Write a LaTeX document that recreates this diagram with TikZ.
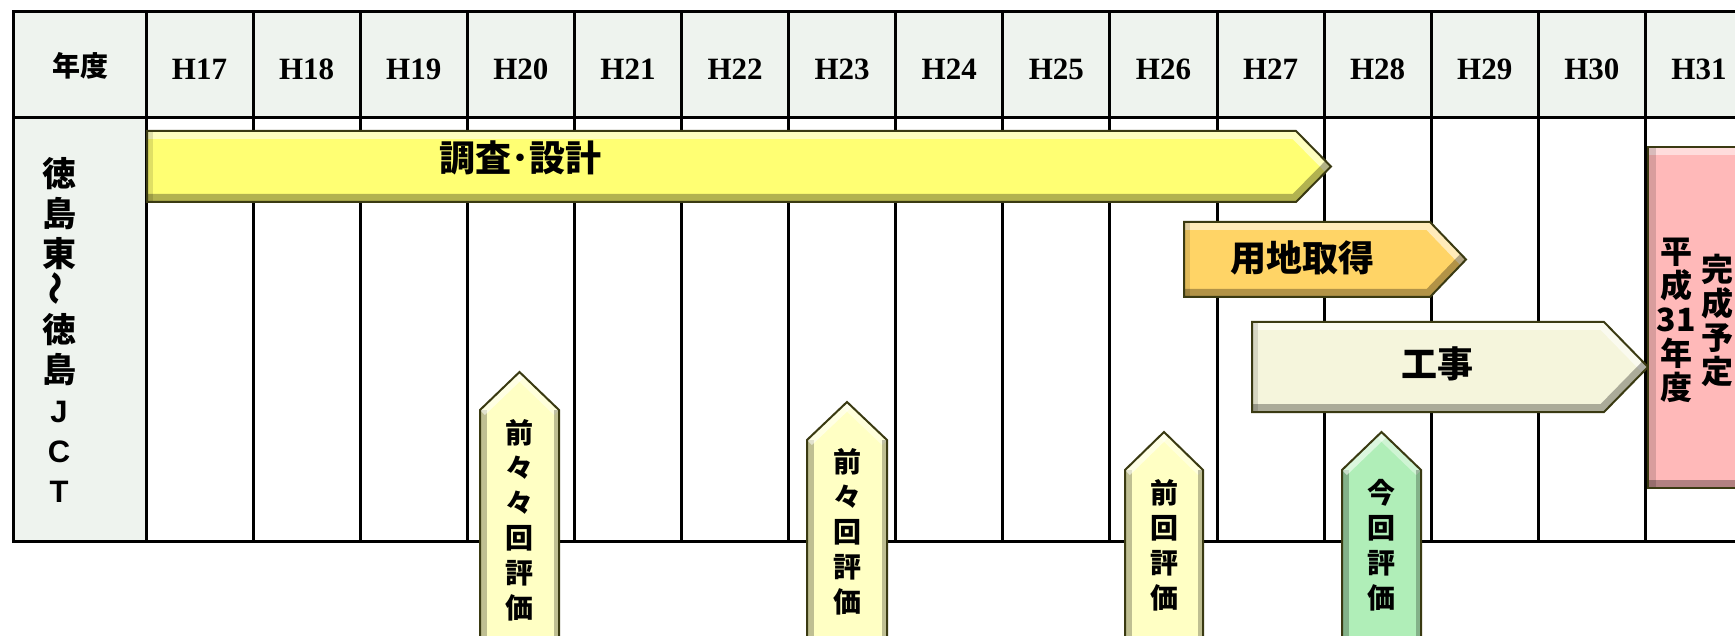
\documentclass[tikz,border=0pt]{standalone}
\usepackage{fontspec}
\usepackage{graphicx}
\setmainfont{Liberation Serif}
\newfontfamily\jp{Noto Sans CJK JP}
\newfontfamily\latinsans{Liberation Sans}
\definecolor{hdr}{HTML}{EEF3EE}
\definecolor{barY}{HTML}{FFFF73}
\definecolor{barO}{HTML}{FFD466}
\definecolor{barB}{HTML}{F5F5DC}
\definecolor{tagY}{HTML}{FFFFC4}
\definecolor{tagG}{HTML}{B0EEB8}
\definecolor{pinkbox}{HTML}{FFB9B9}
\definecolor{edge}{HTML}{3A3A12}
\tikzset{
  gridline/.style={line width=3pt, black},
  shapeedge/.style={draw=edge, line width=2pt, line join=miter},
  hd/.style={font=\bfseries\fontsize{31}{31}\selectfont, anchor=base, inner sep=0pt},
  barlabel/.style={font=\jp\bfseries\fontsize{36}{36}\selectfont, inner sep=0pt},
  taglabel/.style={font=\jp\bfseries\fontsize{28}{35}\selectfont, align=center, inner sep=0pt},
  pinklabel/.style={font=\jp\bfseries\fontsize{32}{34}\selectfont, align=center, inner sep=0pt},
  sidelabel/.style={font=\jp\bfseries\fontsize{34}{34}\selectfont, inner sep=0pt},
  sidelatin/.style={font=\latinsans\bfseries\fontsize{31}{31}\selectfont, inner sep=0pt},
}
% #1 x1, #2 y1, #3 head start x, #4 y2, #5 tip x, #6 colour
\newcommand{\arrowbar}[6]{%
  \fill[#6] (#1,#2) -- (#3,#2) -- (#5,{(#2+#4)/2}) -- (#3,#4) -- (#1,#4) -- cycle;
  \begin{scope}
    \clip (#1,#2) -- (#3,#2) -- (#5,{(#2+#4)/2}) -- (#3,#4) -- (#1,#4) -- cycle;
    \draw[white,opacity=.55,line width=16pt] (#1,#2) -- (#3,#2) -- (#5,{(#2+#4)/2});
    \draw[black,opacity=.3,line width=16pt] (#5,{(#2+#4)/2}) -- (#3,#4) -- (#1,#4);
    \draw[black,opacity=.12,line width=12pt] (#1,#2) -- (#1,#4);
  \end{scope}
  \draw[shapeedge] (#1,#2) -- (#3,#2) -- (#5,{(#2+#4)/2}) -- (#3,#4) -- (#1,#4) -- cycle;
}
% #1 xl, #2 xr, #3 tip y, #4 shoulder y, #5 colour
\newcommand{\tagshape}[5]{%
  \fill[#5] (#1,660) -- (#1,#4) -- ({(#1+#2)/2},#3) -- (#2,#4) -- (#2,660) -- cycle;
  \begin{scope}
    \clip (#1,660) -- (#1,#4) -- ({(#1+#2)/2},#3) -- (#2,#4) -- (#2,660) -- cycle;
    \draw[black,opacity=.25,line width=14pt] (#1,660) -- (#1,#4);
    \draw[white,opacity=.55,line width=14pt] (#1,#4) -- ({(#1+#2)/2},#3);
    \draw[white,opacity=.4,line width=14pt] ({(#1+#2)/2},#3) -- (#2,#4);
    \draw[black,opacity=.25,line width=10pt] (#2,#4) -- (#2,660);
  \end{scope}
  \draw[shapeedge] (#1,660) -- (#1,#4) -- ({(#1+#2)/2},#3) -- (#2,#4) -- (#2,660) -- cycle;
}
\begin{document}
\begin{tikzpicture}[x=1pt,y=-1pt]
\useasboundingbox (0,0) rectangle (1735,636);
\clip (0,0) rectangle (1735,636);
\fill[white] (0,0) rectangle (1735,636);
% table
\fill[hdr] (13,12) rectangle (1745,118);
\fill[hdr] (13,118) rectangle (146,541);
\foreach \k in {0,...,14} \draw[gridline] ({146+107.1*\k},12) -- ({146+107.1*\k},541);
\draw[gridline, line join=miter] (1745,12) -- (13,12) -- (13,541) -- (1745,541);
\draw[gridline] (13,118) -- (1745,118);
% header texts
\node[font=\jp\bfseries\fontsize{28}{28}\selectfont, inner sep=0pt] (nendo) at (80,66) {年度};
\foreach \k in {0,...,14} {
  \pgfmathtruncatemacro\yr{17+\k}
  \node[hd] (h\yr) at ({146+107.1*(\k+0.5)},80) {H\yr};
}
% side label
\foreach \yy/\cc [count=\i] in {174/徳, 214/島, 254/東, 289/{\rotatebox{90}{〜}}, 330/徳, 370/島}
  \node[sidelabel] (side\i) at (59,\yy) {\cc};
\foreach \yy/\cc [count=\i from 7] in {412/J, 452/C, 492/T}
  \node[sidelatin] (side\i) at (59,\yy) {\cc};
% bars
\arrowbar{147}{131}{1296}{202}{1331}{barY}
\arrowbar{1184}{222}{1430}{297}{1466}{barO}
\arrowbar{1252}{322}{1604}{412}{1648}{barB}
\node[barlabel] (chosa) at (520,158) {調査･設計};
\node[barlabel] (yochi) at (1302,258) {用地取得};
\node[barlabel] (koji) at (1437,364) {工事};
% completion box
\fill[pinkbox] (1648,147) rectangle (1745,488);
\begin{scope}
  \clip (1648,147) rectangle (1745,488);
  \draw[white,opacity=.5,line width=16pt] (1648,147) -- (1745,147);
  \draw[black,opacity=.15,line width=16pt] (1648,147) -- (1648,488);
  \draw[black,opacity=.3,line width=16pt] (1648,488) -- (1745,488);
\end{scope}
\draw[shapeedge] (1745,147) -- (1648,147) -- (1648,488) -- (1745,488);
\node[pinklabel] (heisei) at (1676,320) {平\\成\\31\\年\\度};
\node[pinklabel] (yotei) at (1717,320) {完\\成\\予\\定};
% evaluation tags
\tagshape{480}{559}{372}{410}{tagY}
\tagshape{807}{887}{402}{440}{tagY}
\tagshape{1125}{1203}{432}{470}{tagY}
\tagshape{1342}{1421}{432}{470}{tagG}
\node[taglabel] (ev1) at (519.5,520) {前\\々\\々\\回\\評\\価};
\node[taglabel] (ev2) at (847,532) {前\\々\\回\\評\\価};
\node[taglabel] (ev3) at (1164,545) {前\\回\\評\\価};
\node[taglabel] (ev4) at (1381.5,545) {今\\回\\評\\価};
\end{tikzpicture}
\end{document}
